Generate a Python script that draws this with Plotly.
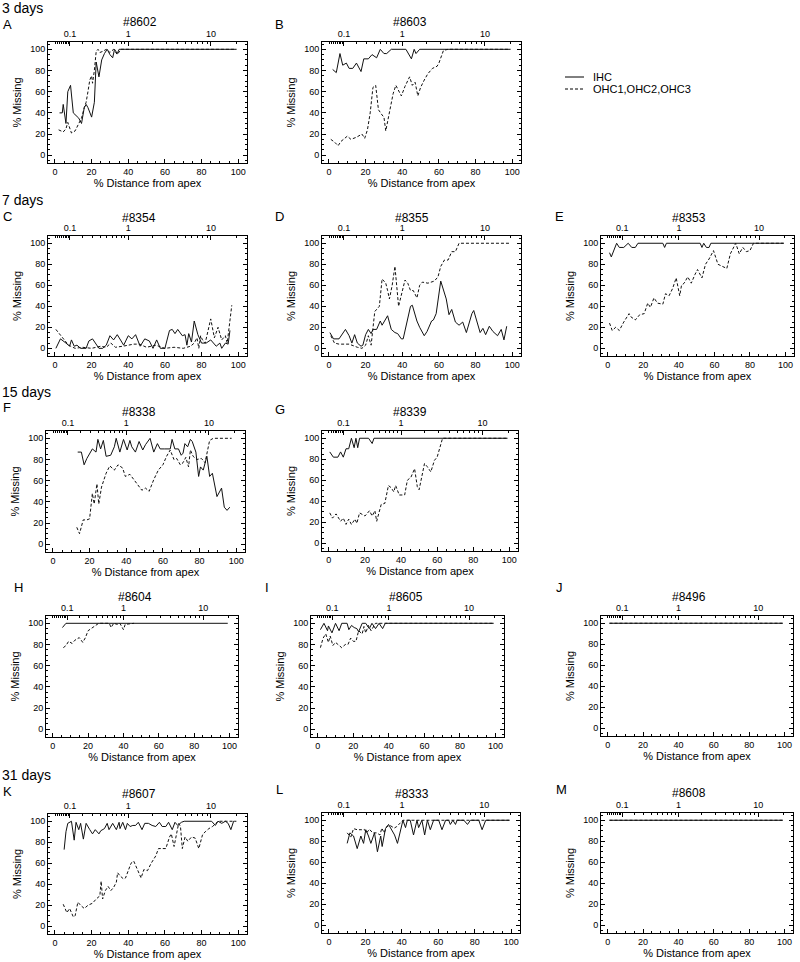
import math
import plotly.graph_objects as go

# % missing hair cells along the cochlea (x = % distance from apex)
a_ihc_x = [2.5, 4, 4.5, 6, 7, 8.5, 10, 12, 13, 14.5, 16, 17, 18, 20, 21.5, 22.5, 24, 25.5, 27, 28.5, 30, 31.5, 32.5, 34, 35, 99]
a_ihc_y = [40, 40, 48, 30, 60, 66, 40, 36, 35, 30, 45, 48, 45, 36, 50, 88, 74, 90, 96, 100, 95, 92, 100, 96, 100, 100]
a_ohc_x = [2, 4.5, 6, 7, 9, 11, 13, 14.5, 16, 17, 18, 19, 20, 20.5, 21.5, 22.5, 23.5, 24.5, 26, 28, 30, 32, 34, 36, 99]
a_ohc_y = [24, 22, 25, 31, 21, 23, 30, 35, 45, 50, 60, 71, 75, 68, 80, 98, 100, 97, 98, 100, 97, 100, 95, 100, 100]

b_ihc_x = [2, 4, 6, 7.5, 9.5, 11, 13, 15, 17.5, 19, 21.5, 23.5, 26, 28, 30, 31.5, 34, 42, 45, 46.5, 47.5, 49.5, 99]
b_ihc_y = [81, 78, 96, 85, 87, 82, 82, 87, 79, 91, 91, 95, 92, 100, 96, 96, 100, 100, 91, 100, 96, 100, 100]
b_ohc_x = [1, 3, 5, 6.5, 10, 12, 15, 18, 19.5, 21, 22.5, 24, 25.5, 27, 29, 30, 31, 32.5, 35, 36.5,
           38, 39.5, 41.5, 44, 45.5, 47, 48.5, 50, 52, 54, 56.5, 59, 60, 62.5, 65, 67, 99]
b_ohc_y = [15, 12.5, 9, 13, 18, 15, 17, 20, 16, 24, 40, 64, 66, 43, 38, 36, 23, 35, 58, 66,
           61, 56, 65, 74, 66, 69, 56, 64, 71, 77, 82, 84, 87, 99, 100, 100, 100]

c_ihc_x = [0.5, 3, 6, 8, 9, 10.5, 12, 14, 17, 18.5, 20.5, 22, 24, 26, 28, 30, 32, 34, 37.5, 40,
           42, 44, 46.5, 49, 51.5, 53.5, 55.5, 57.5, 60, 62.5, 64, 65.5, 67, 69.5, 71, 72, 73, 74.5, 76, 78,
           80, 82.5, 85, 88, 90, 91, 93, 94.5, 95.5]
c_ihc_y = [0, 9, 5, 2, 8, 2, 3, 0, 0, 7, 9, 5, 0, 0, 3, 12, 8, 13, 3, 12,
           9, 13, 2, 9, 7, 0, 8, 0, 0, 17, 18, 14, 18, 12, 13, 3, 14, 6, 26, 13,
           5, 5, 8, 2, 5, 0, 5, 4, 17]
c_ohc_x = [0.5, 4, 6.5, 8.5, 11, 15, 20, 25, 28, 30.5, 33, 37, 43, 46, 50, 55, 60, 65, 70, 74,
           76, 77.5, 78.5, 79.5, 80.5, 82, 85, 87, 89, 91, 93, 94, 95, 96.5]
c_ohc_y = [18, 10, 5, 2, 0, 1, 0, 2, 1, 5, 1, 2, 4, 4, 1, 3, 0, 1, 0, 2,
           5, 10, 0, 12, 8, 5, 28, 10, 20, 8, 12, 5, 20, 41]

d_ihc_x = [0.5, 2.5, 5.5, 9, 11, 12.5, 14, 15.5, 17.5, 18.5, 20, 21.5, 23, 24, 26, 28, 29, 32, 34, 36,
           37.5, 39.5, 40.5, 42.5, 44.5, 45.5, 48, 49.5, 52, 53.5, 56, 57, 58.5, 61, 62.5, 64, 65.5, 67, 69, 71,
           73, 75, 78, 79, 82.5, 84, 85.5, 87.5, 89.5, 92, 94, 95.5, 97]
d_ihc_y = [15, 9, 9, 18, 12, 5, 13, 5, 2, 3, 13, 18, 14, 18, 18, 26, 22, 31, 18, 15,
           14, 9, 9, 25, 40, 41, 26, 20, 12, 16, 26, 27, 33, 64, 55, 47, 32, 37, 25, 22,
           25, 15, 33, 36, 15, 19, 13, 21, 16, 12, 18, 8, 21]
d_ohc_x = [1, 3, 5.5, 11, 15.5, 18, 20, 21.5, 23, 24, 25, 26.5, 27.5, 29, 31, 32, 33, 34.5, 36, 38,
           40, 41.5, 43, 44.5, 46, 48, 49.5, 51, 54, 57.5, 59.5, 61, 63, 65, 67, 69, 71, 99]
d_ohc_y = [12, 5, 4, 4, 1, 0, 3, 12, 3, 17, 35, 38, 40, 66, 62, 55, 47, 60, 78, 40,
           55, 65, 62, 55, 55, 48, 60, 63, 62, 64, 68, 78, 84, 84, 92, 92, 100, 100]

e_ihc_x = [1, 2, 5, 6.5, 9, 11.5, 13.5, 15.5, 17, 31, 32, 33, 52, 53, 54, 55.5, 57, 58, 99]
e_ihc_y = [91, 87, 100, 96, 96, 100, 96, 96, 100, 100, 96, 100, 100, 96, 100, 96, 96, 100, 100]
e_ohc_x = [1, 2.5, 4.5, 6.5, 9, 12, 13, 15.5, 18, 20.5, 22.5, 24, 26, 28, 31, 32.5, 34.5, 36.5, 38.5, 40.5,
           41.5, 43, 45, 47, 49, 50.5, 53, 55, 57, 59.5, 62, 64.5, 67, 69, 72, 74, 76, 78, 80, 82, 99]
e_ohc_y = [24, 17, 20, 17, 25, 33, 30, 27, 32, 33, 43, 39, 48, 43, 42, 52, 50, 57, 67, 50,
           60, 62, 68, 62, 70, 75, 67, 80, 85, 93, 80, 78, 76, 90, 100, 90, 96, 92, 93, 100, 100]

f_ihc_x = [13.5, 15.5, 17, 18.5, 21.5, 23.5, 24.5, 26, 27.5, 29, 31.5, 33.5, 34.5, 36.5, 38.5, 40.5, 42, 43, 45, 47,
           49, 50.5, 53, 55, 57, 58.5, 61, 64, 65, 66.5, 68.5, 70, 71, 72, 73.5, 75, 76, 78, 79.5, 80.5,
           82, 84, 85.5, 87, 89.5, 92, 93.5, 95, 96.5]
f_ihc_y = [87, 87, 75, 81, 90, 87, 99, 90, 98, 83, 84, 92, 100, 87, 99, 89, 98, 92, 87, 97,
           89, 94, 100, 87, 95, 90, 90, 90, 99, 90, 90, 84, 86, 95, 92, 99, 97, 87, 64, 73,
           70, 83, 64, 67, 45, 53, 35, 32, 35]
f_ohc_x = [13, 14.5, 16.5, 18.5, 20, 21.5, 22.5, 24, 25, 26.5, 29, 31, 33.5, 35.5, 38, 39.5, 42, 44, 46.5, 48.5,
           50.5, 52.5, 55, 57.5, 60, 62, 64, 66, 67.5, 69.5, 71, 72.5, 74, 75, 76.5, 78.5, 81, 83, 85.5, 87.5, 97.5]
f_ohc_y = [16, 10, 23, 23, 24, 48, 38, 57, 38, 54, 67, 74, 70, 75, 72, 64, 66, 61, 55, 51,
           53, 50, 61, 70, 75, 83, 89, 80, 81, 75, 77, 82, 73, 89, 83, 80, 81, 77, 98, 100, 100]

g_ihc_x = [0.5, 2.5, 5, 6.5, 8, 9.5, 11, 12.5, 14, 15, 16, 17, 22, 24, 25, 99]
g_ihc_y = [87, 82, 82, 87, 82, 90, 90, 100, 91, 100, 91, 100, 100, 95, 100, 100]
g_ohc_x = [0.5, 2, 4, 6.5, 8, 9.5, 11, 12.5, 14.5, 15.5, 17, 20, 22.5, 24, 25.5, 26.5, 29, 31, 33, 34.5,
           36, 37, 39, 42, 43.5, 45.5, 47.5, 49, 50, 53, 54.5, 56.5, 58.5, 60, 63, 99]
g_ohc_y = [29, 24, 28, 21, 24, 18, 23, 18, 23, 19, 29, 26, 31, 26, 31, 21, 37, 38, 55, 53,
           49, 55, 46, 46, 60, 63, 71, 54, 51, 76, 73, 68, 79, 82, 100, 100]

h_ihc_x = [5.5, 7.5, 99]
h_ihc_y = [96, 100, 100]
h_ohc_x = [6, 7.5, 9, 11, 12.5, 15, 17, 18.5, 20, 22.5, 24.5, 26, 32, 33, 34.5, 36.5, 38, 40, 41, 44, 46]
h_ohc_y = [77, 79, 83, 81, 84, 86.5, 82, 86.5, 93, 96, 99, 100, 100, 96, 100, 99, 100, 94, 99, 100, 100]

i_ihc_x = [1.5, 3.5, 5.5, 6, 8, 10, 12, 13.5, 16.5, 17.5, 19, 20.5, 22, 23, 25, 27, 29, 30.5, 32.5, 34.5, 36.5, 38, 99]
i_ihc_y = [94, 100, 93, 97.5, 91, 100, 93, 100, 100, 94, 98, 96, 95, 92, 100, 100, 95, 100, 95, 100, 95, 100, 100]
i_ohc_x = [1.5, 3, 4.5, 6, 7, 8.5, 10, 12, 13.5, 15.5, 17, 18.5, 20, 21.5, 23, 25, 26, 27, 28.5, 30, 31.5, 32.5, 99]
i_ohc_y = [77, 86, 90, 82, 88, 79, 82, 79, 77, 80, 80, 86, 83, 83, 93, 90, 97, 91, 98, 93, 98, 100, 100]

j_ihc_x = [1, 99]
j_ihc_y = [100, 100]
j_ohc_x = [1, 99]
j_ohc_y = [100, 100]

k_ihc_x = [5, 6, 7, 9, 10.5, 11.5, 13, 14, 15.5, 17, 19, 20.5, 22, 24, 25, 27, 28.5, 29.5, 31.5, 33.5,
           35, 35.5, 37, 38.5, 39.5, 41, 42.5, 44, 45.5, 47.5, 49, 51, 53, 55, 57, 58.5, 60.5, 62, 64, 65.5,
           67, 69, 70.5, 85.5, 87.5, 89, 91, 93, 94.5, 96, 97.5, 98]
k_ihc_y = [73, 90, 98, 100, 82, 99, 92, 98, 83, 98, 92, 88, 92, 88, 91, 93, 98, 92, 98, 92,
           99, 93, 99, 92, 98, 95, 96, 96, 99, 92, 98, 98, 96, 95, 99, 95, 95, 99, 92, 99,
           96, 99, 100, 100, 96, 100, 98, 100, 98, 92, 100, 100]
k_ohc_x = [4.5, 6.5, 8, 10, 11, 12.5, 14, 16, 18, 20.5, 22.5, 24.5, 25.2, 26, 27.5, 29, 30.5, 32, 33.5, 34.2,
           35.5, 37.5, 38.5, 41.5, 43, 45.5, 47, 48.5, 50.5, 52.5, 55, 56.5, 58.5, 60.5, 62.5, 63.5, 65, 66, 67.5, 68.5,
           69.5, 71, 72.5, 74.5, 76.5, 78.5, 80.5, 82, 84, 86, 87.5, 89, 99]
k_ohc_y = [21, 13, 17, 9, 10, 23, 20, 17, 20, 22, 26, 29, 43, 26, 34, 38, 34, 37, 42, 51,
           48, 45, 46, 60, 62, 51, 46, 54, 53, 60, 67, 74, 74, 74, 85, 88, 76, 85, 98, 95,
           74, 85, 81, 85, 84, 74, 87, 90, 93, 95, 98, 100, 100]

l_ihc_x = [10, 11.5, 13.5, 15.5, 17.5, 19, 20.2, 21.7, 23, 25, 26.6, 28.4, 29.2, 31, 32.7, 34.5, 36, 37.6, 39.4, 40.6,
           42, 43, 44.6, 46.4, 48.3, 49.2, 51, 52.5, 54, 55.6, 57.4, 60.2, 62, 64, 65.7, 66.6, 68, 69.4, 70.3, 74,
           76, 77.6, 82.2, 84, 86, 99]
l_ihc_y = [78, 88, 85, 73, 85, 78, 91, 85, 78, 88, 70, 85, 75, 92, 96, 91, 86, 78, 92, 100,
           93, 100, 100, 86, 100, 93, 100, 86, 100, 91, 100, 100, 91, 100, 100, 96, 100, 96, 100, 100,
           96, 100, 100, 91, 100, 100]
l_ohc_x = [10, 12, 13.5, 15.5, 18, 19.3, 20.7, 22.2, 24, 26.2, 28, 29, 30.3, 31.7, 33.6, 35.8, 37.2, 39.1, 40.6, 99]
l_ohc_y = [88, 84, 92, 91, 91, 91.5, 88, 91.5, 88, 88, 86, 92.5, 88, 94, 95, 92.5, 94, 97, 100, 100]

m_ihc_x = [1, 99]
m_ihc_y = [100, 100]
m_ohc_x = [1, 99]
m_ohc_y = [100, 100]

panel_titles = ["#8602", "#8603", "#8354", "#8355", "#8353", "#8338", "#8339",
                "#8604", "#8605", "#8496", "#8607", "#8333", "#8608"]
panel_letters = ["A", "B", "C", "D", "E", "F", "G", "H", "I", "J", "K", "L", "M"]
series = [
    (a_ihc_x, a_ihc_y, a_ohc_x, a_ohc_y), (b_ihc_x, b_ihc_y, b_ohc_x, b_ohc_y),
    (c_ihc_x, c_ihc_y, c_ohc_x, c_ohc_y), (d_ihc_x, d_ihc_y, d_ohc_x, d_ohc_y),
    (e_ihc_x, e_ihc_y, e_ohc_x, e_ohc_y), (f_ihc_x, f_ihc_y, f_ohc_x, f_ohc_y),
    (g_ihc_x, g_ihc_y, g_ohc_x, g_ohc_y), (h_ihc_x, h_ihc_y, h_ohc_x, h_ohc_y),
    (i_ihc_x, i_ihc_y, i_ohc_x, i_ohc_y), (j_ihc_x, j_ihc_y, j_ohc_x, j_ohc_y),
    (k_ihc_x, k_ihc_y, k_ohc_x, k_ohc_y), (l_ihc_x, l_ihc_y, l_ohc_x, l_ohc_y),
    (m_ihc_x, m_ihc_y, m_ohc_x, m_ohc_y),
]

# top axis: frequency in kHz
freq_major = [0.1, 1, 10]
freq_labels = ["0.1", "1", "10"]
freq_minor = [0.02, 0.03, 0.04, 0.05, 0.06, 0.07, 0.08, 0.09,
              0.2, 0.3, 0.4, 0.5, 0.6, 0.7, 0.8, 0.9,
              2, 3, 4, 5, 6, 7, 8, 9, 20]

group_labels = ["3 days", "7 days", "15 days", "31 days"]

# ---- layout in pixels ----
W, H = 800, 962
FONT = "Liberation Sans, Arial, sans-serif"

# plot box (left, right, top, bottom), letter (x, y), title (x, y)
boxes = [
    (48, 247, 42, 163), (322, 521, 42, 163),
    (48, 247, 236, 356), (322, 521, 236, 356), (601, 794, 236, 356),
    (46, 245, 431, 552), (322, 518, 431, 551),
    (46, 238, 616, 737), (311, 504, 616, 737), (601, 793, 616, 736),
    (48, 247, 814, 934), (322, 520, 813, 933), (601, 793, 813, 933),
]
letter_pos = [(1, 25), (273, 25), (1, 217), (273, 217), (553, 217), (1, 407), (273, 410),
              (12, 587), (263, 587), (554, 587), (1, 791), (274, 789), (554, 789)]
title_pos = [(140, 22), (410, 22), (139, 218), (412, 218), (689, 218), (139, 412), (410, 412),
             (135, 597), (406, 597), (689, 597), (139, 794), (412, 794), (689, 793)]
group_pos = [(0, 8), (0, 200), (0, 392), (0, 775)]


def place(f_khz):
    # Greenwood frequency-place map (human), kHz -> % distance from apex
    return 100 * math.log10(f_khz / 0.1654 + 0.88) / 2.1


def px_x(v):
    return v / W


def px_y(v):
    return 1 - v / H


fig = go.Figure()
layout = {}
annotations = []

for i, (ihc_x, ihc_y, ohc_x, ohc_y) in enumerate(series):
    xb = 2 * i + 1
    xt = 2 * i + 2
    yn = i + 1
    xb_ref = f"x{xb}" if xb > 1 else "x"
    yref = f"y{yn}" if yn > 1 else "y"
    left, right, top, bottom = boxes[i]

    fig.add_trace(go.Scatter(x=ihc_x, y=ihc_y, mode="lines", xaxis=xb_ref, yaxis=yref,
                             line=dict(color="#111111", width=1), showlegend=False, hoverinfo="skip"))
    fig.add_trace(go.Scatter(x=ohc_x, y=ohc_y, mode="lines", xaxis=xb_ref, yaxis=yref,
                             line=dict(color="#111111", width=1, dash="3px,2px"),
                             showlegend=False, hoverinfo="skip"))
    # empty trace so the top (frequency) axis is drawn
    fig.add_trace(go.Scatter(x=[], y=[], xaxis=f"x{xt}", yaxis=yref, showlegend=False, hoverinfo="skip"))

    common = dict(showgrid=False, zeroline=False, showline=True, linecolor="black", linewidth=1,
                  color="black", ticks="inside", tickcolor="black",
                  tickfont=dict(family=FONT, size=9, color="black"))
    layout[f"xaxis{xb}"] = dict(
        common, domain=[px_x(left), px_x(right)], anchor=yref, range=[-3.8, 104.8],
        tickmode="array", tickvals=[0, 20, 40, 60, 80, 100], ticklen=4,
        minor=dict(tickmode="linear", tick0=0, dtick=5, ticks="inside", ticklen=2, tickcolor="black"),
        title=dict(text="% Distance from apex", font=dict(family=FONT, size=11, color="black"), standoff=3),
    )
    layout[f"xaxis{xt}"] = dict(
        common, overlaying=xb_ref, anchor=yref, side="top", range=[-3.8, 104.8],
        tickmode="array", tickvals=[place(f) for f in freq_major], ticktext=freq_labels, ticklen=4,
        minor=dict(tickmode="array", tickvals=[place(f) for f in freq_minor],
                   ticks="inside", ticklen=2, tickcolor="black"),
    )
    layout[f"yaxis{yn}"] = dict(
        common, domain=[px_y(bottom), px_y(top)], anchor=xb_ref, range=[-7.3, 106.9], mirror="ticks",
        tickmode="array", tickvals=[0, 20, 40, 60, 80, 100], ticklen=4,
        minor=dict(tickmode="linear", tick0=0, dtick=5, ticks="inside", ticklen=2, tickcolor="black"),
        title=dict(text="% Missing", font=dict(family=FONT, size=11, color="black"), standoff=6),
    )

    lx, ly = letter_pos[i]
    annotations.append(dict(text=panel_letters[i], x=px_x(lx), y=px_y(ly), xref="paper", yref="paper",
                            xanchor="left", yanchor="middle", showarrow=False,
                            font=dict(family=FONT, size=13, color="black")))
    tx, ty = title_pos[i]
    annotations.append(dict(text=panel_titles[i], x=px_x(tx), y=px_y(ty), xref="paper", yref="paper",
                            xanchor="center", yanchor="middle", showarrow=False,
                            font=dict(family=FONT, size=12, color="black")))

for label, (gx, gy) in zip(group_labels, group_pos):
    annotations.append(dict(text=label, x=px_x(gx), y=px_y(gy), xref="paper", yref="paper",
                            xanchor="left", yanchor="middle", showarrow=False,
                            font=dict(family=FONT, size=14, color="black")))

# legend drawn by hand, like the original
legend_items = [("IHC", "solid", 77), ("OHC1,OHC2,OHC3", "3px,2px", 89)]
shapes = []
for text, dash, ly in legend_items:
    shapes.append(dict(type="line", xref="paper", yref="paper", x0=px_x(565), x1=px_x(584),
                       y0=px_y(ly), y1=px_y(ly), line=dict(color="black", width=1, dash=dash)))
    annotations.append(dict(text=text, x=px_x(591), y=px_y(ly), xref="paper", yref="paper",
                            xanchor="left", yanchor="middle", showarrow=False,
                            font=dict(family=FONT, size=11, color="black")))

fig.update_layout(
    width=W, height=H,
    margin=dict(l=0, r=0, t=0, b=0),
    paper_bgcolor="white", plot_bgcolor="white",
    font=dict(family=FONT, color="black"),
    annotations=annotations, shapes=shapes,
    showlegend=False,
    **layout,
)

# drop the page's default body margin so the figure sits at the top-left corner
fig.write_html("out.html", config={"displayModeBar": False},
               post_script="document.body.style.margin='0px';")
